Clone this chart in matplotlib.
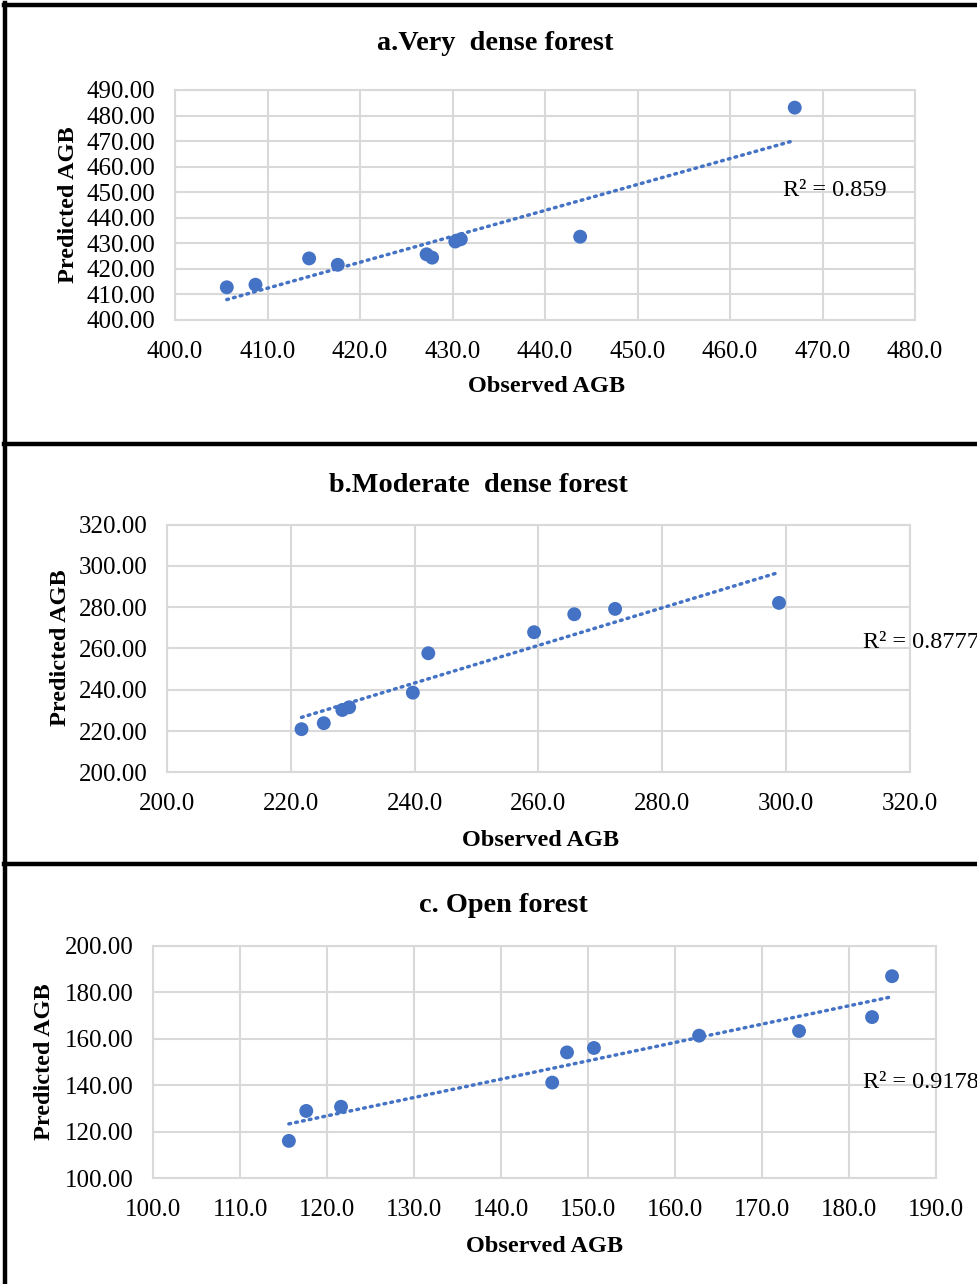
import numpy as np
import matplotlib
matplotlib.use("Agg")
import matplotlib.pyplot as plt
from matplotlib.lines import Line2D

plt.rcParams['font.family'] = ['Liberation Serif', 'DejaVu Serif']

# ---- data ----
obs_a = [405.6, 408.7, 414.5, 417.6, 427.2, 427.8, 430.3, 430.9, 443.8, 467.0]
pred_a = [412.8, 413.8, 424.1, 421.6, 425.7, 424.4, 430.7, 431.6, 432.6, 483.1]

obs_b = [221.7, 225.3, 228.3, 229.4, 239.7, 242.2, 259.3, 265.8, 272.4, 298.9]
pred_b = [220.9, 223.8, 230.2, 231.5, 238.6, 257.7, 267.9, 276.6, 279.2, 282.1]

obs_c = [115.6, 117.6, 121.6, 145.9, 147.6, 150.7, 162.8, 174.3, 182.7, 185.0]
pred_c = [116.1, 129.0, 130.8, 141.2, 154.2, 156.1, 161.4, 163.4, 169.4, 187.0]

titles = ["a.Very  dense forest", "b.Moderate  dense forest", "c. Open forest"]
r2_labels = ["R\u00b2 = 0.859", "R\u00b2 = 0.8777", "R\u00b2 = 0.9178"]
x_ticks_a = [400, 410, 420, 430, 440, 450, 460, 470, 480]
y_ticks_a = [400, 410, 420, 430, 440, 450, 460, 470, 480, 490]
x_ticks_b = [200, 220, 240, 260, 280, 300, 320]
y_ticks_b = [200, 220, 240, 260, 280, 300, 320]
x_ticks_c = [100, 110, 120, 130, 140, 150, 160, 170, 180, 190]
y_ticks_c = [100, 120, 140, 160, 180, 200]

W, H = 977, 1284
fig = plt.figure(figsize=(W / 100, H / 100), dpi=100)
fig.patch.set_facecolor('white')

def fx(px):
    return px / W

def fy(py):
    return 1 - py / H

# axes rects in pixels: left, right, top, bottom
rects = [(175, 915, 90, 320), (167.3, 909.5, 524.7, 772.3), (153.3, 935.5, 946, 1178.3)]
datasets = [(obs_a, pred_a, x_ticks_a, y_ticks_a),
            (obs_b, pred_b, x_ticks_b, y_ticks_b),
            (obs_c, pred_c, x_ticks_c, y_ticks_c)]
title_pos = [(495, 44), (478, 485), (503, 905)]
xlabel_pos = [(546, 387), (540, 840), (545, 1246)]
ylabel_pos = [(68, 205), (60, 648), (45, 1062)]
r2_pos = [(783, 191), (863, 643), (863, 1083)]

grid_col = '#d9d9d9'
blue = '#4472C4'

for i in range(3):
    l, r, t, b = rects[i]
    ax = fig.add_axes([fx(l), fy(b), fx(r) - fx(l), fy(t) - fy(b)])
    xs, ys, xt, yt = datasets[i]
    ax.set_xlim(xt[0], xt[-1])
    ax.set_ylim(yt[0], yt[-1])
    ax.set_xticks(xt)
    ax.set_yticks(yt)
    ax.set_xticklabels([f"{v:.1f}" for v in xt])
    ax.set_yticklabels([f"{v:.2f}" for v in yt])
    ax.tick_params(axis='x', length=0, labelsize=18, pad=15)
    ax.tick_params(axis='y', length=0, labelsize=18, pad=14)
    ax.grid(True, color=grid_col, linewidth=1.5)
    ax.set_axisbelow(True)
    for s in ax.spines.values():
        s.set_color(grid_col)
        s.set_linewidth(1.5)
    # trendline
    xarr = np.array(xs)
    yarr = np.array(ys)
    m, c = np.polyfit(xarr, yarr, 1)
    xl = np.array([xarr.min(), xarr.max()])
    ax.plot(xl, m * xl + c, color=blue, linewidth=2.5, linestyle=(0, (0.5, 1.5)),
            dash_capstyle='round', zorder=2)
    ax.scatter(xarr, yarr, s=100, color=blue, edgecolors='none', zorder=3, clip_on=False)

    fig.text(fx(title_pos[i][0]), fy(title_pos[i][1]), titles[i], ha='center', va='center',
             fontsize=20.3, fontweight='bold')
    fig.text(fx(xlabel_pos[i][0]), fy(xlabel_pos[i][1]), "Observed AGB", ha='center', va='center',
             fontsize=17.5, fontweight='bold')
    fig.text(fx(ylabel_pos[i][0]), fy(ylabel_pos[i][1]), "Predicted AGB", ha='center', va='center',
             fontsize=17.5, fontweight='bold', rotation=90)
    fig.text(fx(r2_pos[i][0]), fy(r2_pos[i][1]), r2_labels[i], ha='left', va='center',
             fontsize=17.5)

# black frame lines
lw = 3.2
fig.add_artist(Line2D([fx(5), fx(5)], [fy(3), 0], color='black', linewidth=lw))
for yy in [5, 444, 864]:
    fig.add_artist(Line2D([fx(4), 1], [fy(yy), fy(yy)], color='black', linewidth=lw))

fig.savefig("out.png", dpi=100, facecolor='white')
